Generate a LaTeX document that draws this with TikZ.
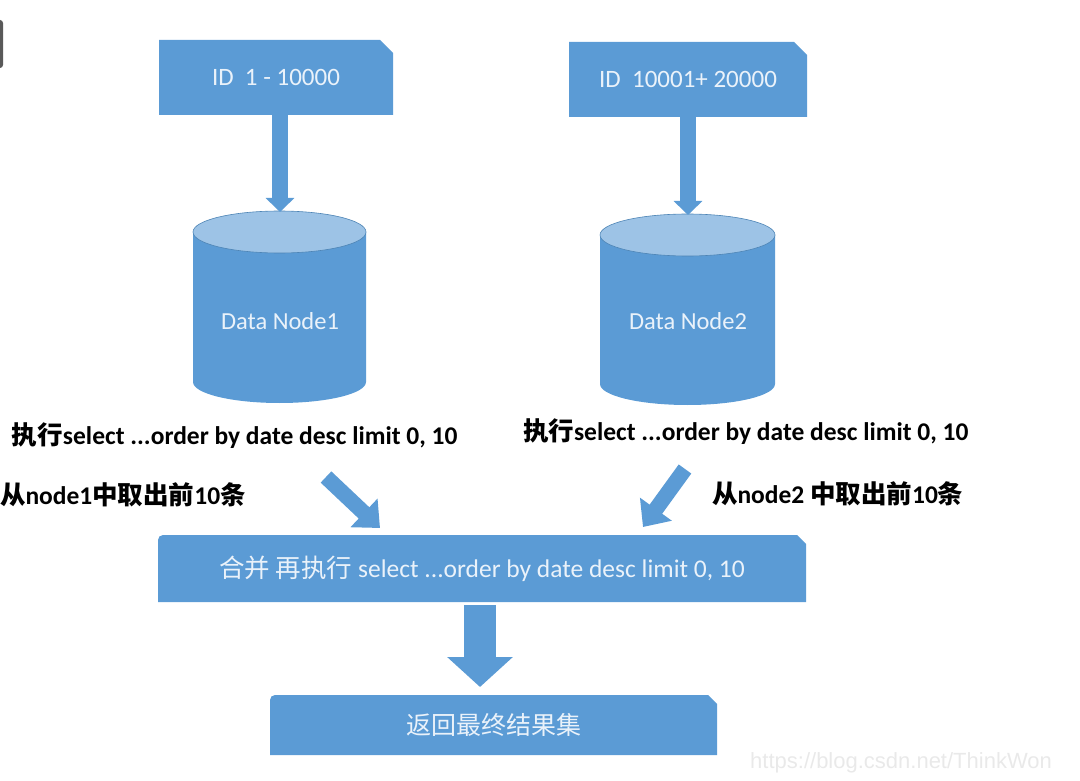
\documentclass[tikz,border=0pt]{standalone}
\usepackage{fontspec}
\setmainfont{Carlito}
\newfontfamily\cjk{Noto Sans CJK SC}
\newfontfamily\wmfont{Liberation Sans}
\usetikzlibrary{arrows.meta,backgrounds}
\definecolor{boxblue}{HTML}{5B9BD5}
\definecolor{topblue}{HTML}{9DC3E6}
\definecolor{txtw}{HTML}{EAF2FA}
\definecolor{wmgray}{HTML}{E9E9E9}
\begin{document}
\begin{tikzpicture}[x=1pt,y=-1pt,
  boxnode/.style={inner sep=0pt, outer sep=0pt, text=txtw, align=center},
  lbl/.style={inner sep=0pt, outer sep=0pt, anchor=west, text=black, font=\fontsize{25.5}{30}\selectfont\bfseries},
  flow/.style={draw=boxblue, line width=#1},
  dbtext/.style={inner sep=0pt, text=txtw, font=\fontsize{24.5}{28}\selectfont}
]
\useasboundingbox (0,0) rectangle (1080,781);
% cropped dark element at top left
\fill[black!65, rounded corners=3pt] (-12,20) rectangle (3,68);

% ID boxes
\node[boxnode, minimum width=234pt, minimum height=75pt, font=\fontsize{25}{29}\selectfont] (id1) at (276,77.5) {\raisebox{-4pt}{ID\ \ 1 - 10000}};
\node[boxnode, minimum width=238pt, minimum height=75pt, font=\fontsize{25}{29}\selectfont] (id2) at (688,79.5) {\raisebox{-3pt}{ID\ \ 10001+ 20000}};

% cylinder texts and tops
\node[dbtext] (db1) at (280,321) {Data Node1};
\coordinate (db1top) at (280,212);
\node[dbtext] (db2) at (688,321) {Data Node2};
\coordinate (db2top) at (688,215);

% merge and final boxes
\node[boxnode, minimum width=648pt, minimum height=67pt, font=\fontsize{25.5}{30}\selectfont] (merge) at (482,568.5) {{\cjk 合并\ 再执行} select ...order by date desc limit 0, 10};
\node[boxnode, minimum width=447pt, minimum height=60pt, font=\fontsize{25}{29}\selectfont\cjk] (final) at (493.5,725) {返回最终结果集};

% black labels
\node[lbl] (t1) at (12,436) {{\cjk 执行}select ...order by date desc limit 0, 10};
\node[lbl] (t2) at (523,432) {{\cjk 执行}select ...order by date desc limit 0, 10};
\node[lbl] (t3) at (0,495) {{\cjk 从}node1{\cjk 中取出前}10{\cjk 条}};
\node[lbl] (t4) at (712,494) {{\cjk 从}node2 {\cjk 中取出前}10{\cjk 条}};

% watermark
\node[inner sep=0pt, anchor=west, text=wmgray, font=\fontsize{22}{26}\selectfont\wmfont] (wm) at (750,763) {https://blog.csdn.net/ThinkWon};

\begin{scope}[on background layer]
  % snipped boxes
  \fill[boxblue] (id1.south west) -- (id1.north west) -- ([xshift=-13pt]id1.north east) -- ([yshift=-13pt]id1.north east) -- (id1.south east) -- cycle;
  \fill[boxblue] (id2.south west) -- (id2.north west) -- ([xshift=-13pt]id2.north east) -- ([yshift=-13pt]id2.north east) -- (id2.south east) -- cycle;
  \fill[boxblue] (merge.south west) -- ([yshift=-5pt]merge.north west) arc[start angle=180, end angle=90, radius=5pt] -- ([xshift=-9pt]merge.north east) -- ([yshift=-9pt]merge.north east) -- (merge.south east) -- cycle;
  \fill[boxblue] (final.south west) -- ([yshift=-5pt]final.north west) arc[start angle=180, end angle=90, radius=5pt] -- ([xshift=-9pt]final.north east) -- ([yshift=-9pt]final.north east) -- (final.south east) -- cycle;
  % cylinders
  \fill[boxblue] (193,232) -- (193,382) arc[start angle=180, end angle=360, x radius=86.5pt, y radius=21pt] -- (366,232) -- cycle;
  \filldraw[fill=topblue, draw=boxblue!85!black, line width=0.6pt] (279.5,232) ellipse [x radius=86.5pt, y radius=21pt];
  \fill[boxblue] (600,235) -- (600,384) arc[start angle=180, end angle=360, x radius=87.5pt, y radius=21pt] -- (775,235) -- cycle;
  \filldraw[fill=topblue, draw=boxblue!85!black, line width=0.6pt] (687.5,235) ellipse [x radius=87.5pt, y radius=21pt];
\end{scope}

% arrows
\coordinate (a1s) at (326,477);
\coordinate (a1e) at (380,528);
\coordinate (a2s) at (685,469);
\coordinate (a2e) at (643,527);
\draw[flow=16pt, -{Triangle[width=28pt,length=14pt,fill=boxblue]}] (id1.south -| db1top) -- (db1top);
\draw[flow=16pt, -{Triangle[width=28pt,length=14pt,fill=boxblue]}] (id2.south -| db2top) -- (db2top);
\draw[flow=15.5pt, -{Triangle[width=38pt,length=22pt,fill=boxblue]}] (a1s) -- (a1e);
\draw[flow=15.5pt, -{Triangle[width=38pt,length=22pt,fill=boxblue]}] (a2s) -- (a2e);
\draw[flow=32pt, -{Triangle[width=64pt,length=30pt,fill=boxblue]}, shorten <=3pt, shorten >=8pt] ([xshift=-2pt]merge.south) -- ([xshift=-2pt]merge.south |- final.north);
\end{tikzpicture}
\end{document}
